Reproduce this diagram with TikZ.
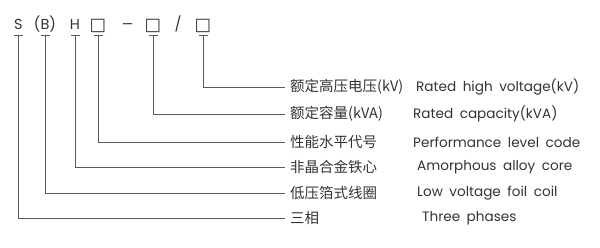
\documentclass[tikz,border=0pt]{standalone}
\usepackage{fontspec}
\setmainfont{Poppins}[WordSpace=1.8]
\newfontfamily\cjk{Noto Sans CJK SC}
\newfontfamily\symb{DejaVu Sans}
\definecolor{txt}{HTML}{333333}
\definecolor{ln}{HTML}{5A5A5A}

\begin{document}
\begin{tikzpicture}[x=1pt,y=-1pt]

% ---------- common style ----------
\tikzstyle{code}=[inner sep=0pt,anchor=base,font=\fontsize{14.5}{14.5}\selectfont,text=txt]
\tikzstyle{box}=[code,font=\symb\fontsize{17.5}{17.5}\selectfont]
\tikzstyle{cn}=[inner sep=0pt,anchor=west,font=\cjk\fontsize{14.5}{14.5}\selectfont,text=txt]
\tikzstyle{en}=[inner sep=0pt,anchor=west,font=\fontsize{13.6}{13.6}\selectfont,text=txt]
\tikzstyle{lead}=[draw=ln,line width=0.8pt]

\useasboundingbox (0,0) rectangle (600,248);

% ================== model code ==================
\node[code] (s)  at (18.5,30) {S};
\node[code] (b)  at (45,30)   {(B)};
\node[code] (h)  at (75,30)   {H};
\node[box]  (q1) at (98,31)   {□};
\node[code,xscale=1.6] (d)  at (128,30)  {-};
\node[box]  (q2) at (153,31)  {□};
\node[code] (sl) at (178,30)  {/};
\node[box]  (q3) at (203,31)  {□};

% ================== meanings ==================
\node[cn] (l1) at (290,87)  {额定高压电压(kV)};
\node[cn] (l2) at (290,114) {额定容量(kVA)};
\node[cn] (l3) at (290,142) {性能水平代号};
\node[cn] (l4) at (290,167) {非晶合金铁心};
\node[cn] (l5) at (290,193) {低压箔式线圈};
\node[cn] (l6) at (290,218) {三相};

\node[en] (e1) at (416,87)  {Rated high voltage(kV)};
\node[en] (e2) at (413,114) {Rated capacity(kVA)};
\node[en] (e3) at (413,142) {Performance level code};
\node[en] (e4) at (417,167) {Amorphous alloy core};
\node[en] (e5) at (417,193) {Low voltage foil coil};
\node[en] (e6) at (422,218) {Three phases};

% ================== leaders ==================
\foreach \c/\l in {s/l6,b/l5,h/l4,q1/l3,q2/l2,q3/l1} {
  \draw[lead] ([xshift=-4.5pt]\c |- 0,35) -- ([xshift=4.5pt]\c |- 0,35);
  \draw[lead,shorten >=5pt] (\c |- 0,35) |- (\l.west);
}

\end{tikzpicture}
\end{document}
